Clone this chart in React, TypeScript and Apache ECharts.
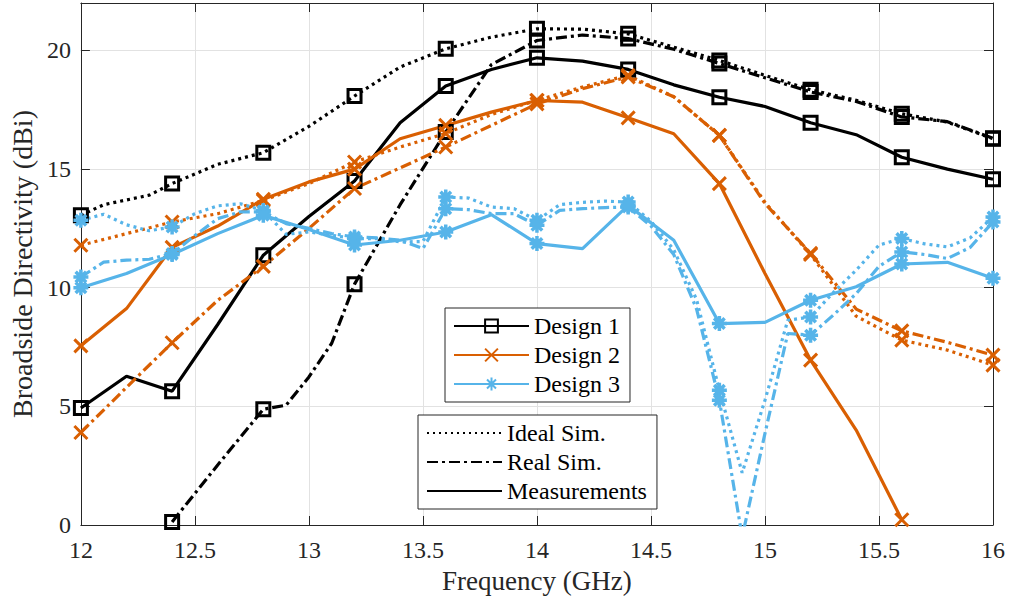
import React, { useEffect, useRef } from 'react';
import * as echarts from 'echarts';

// ---------------- data ----------------
const freqMeas = [12, 12.2, 12.4, 12.6, 12.8, 13, 13.2, 13.4, 13.6, 13.8, 14, 14.2, 14.4, 14.6, 14.8, 15, 15.2, 15.4, 15.6, 15.8, 16];
const freqFine = [12, 12.1, 12.2, 12.3, 12.4, 12.5, 12.6, 12.7, 12.8, 12.9, 13, 13.1, 13.2, 13.3, 13.4, 13.5, 13.6, 13.7, 13.8, 13.9, 14,
  14.1, 14.2, 14.3, 14.4, 14.5, 14.6, 14.7, 14.8, 14.9, 15, 15.1, 15.2, 15.3, 15.4, 15.5, 15.6, 15.7, 15.8, 15.9, 16];

// Design 1
const d1IdealFreq = [12, 12.1, 12.2, 12.3, 12.4, 12.6, 12.8, 13, 13.2, 13.4, 13.6, 13.8, 14, 14.2, 14.4, 14.6, 14.8, 15, 15.2, 15.4, 15.6, 15.8, 16];
const d1Ideal = [13.05, 13.5, 13.7, 13.9, 14.39, 15.2, 15.69, 16.8, 18.08, 19.3, 20.07, 20.56, 20.91, 20.9, 20.7, 20.14, 19.58, 18.95, 18.34, 17.9, 17.33, 16.98, 16.28];
const d1RealFreq = [12.4, 12.6, 12.8, 12.9, 13, 13.1, 13.2, 13.4, 13.6, 13.8, 14, 14.2, 14.4, 14.6, 14.8, 15, 15.2, 15.4, 15.6, 15.8, 16];
const d1Real = [0.13, 2.53, 4.88, 5.05, 6.24, 7.66, 10.15, 13.5, 16.56, 19.4, 20.42, 20.65, 20.5, 20.05, 19.45, 18.85, 18.25, 17.85, 17.2, 17.0, 16.3];
const d1Meas = [4.93, 6.27, 5.64, 8.45, 11.37, 13.0, 14.5, 16.95, 18.5, 19.2, 19.69, 19.55, 19.2, 18.55, 18.03, 17.64, 16.95, 16.45, 15.5, 15.0, 14.57];

// Design 2
const d2Ideal = [11.79, 12.28, 12.77, 13.12, 13.68, 14.39, 15.3, 15.93, 16.5, 17.3, 17.9, 18.46, 18.95, 18.05, 16.42, 13.6, 11.4, 8.8, 7.79, 7.37, 6.74];
const d2Real = [3.9, 5.8, 7.68, 9.47, 10.9, 12.5, 14.18, 15.05, 15.93, 16.84, 17.75, 18.39, 18.88, 18.05, 16.42, 13.55, 11.45, 9.1, 8.18, 7.7, 7.16];
const d2MeasFreq = [12, 12.2, 12.4, 12.6, 12.8, 13, 13.2, 13.4, 13.6, 13.8, 14, 14.2, 14.4, 14.6, 14.8, 15, 15.2, 15.4, 15.6];
const d2Meas = [7.55, 9.12, 11.7, 12.6, 13.73, 14.46, 15.0, 16.28, 16.84, 17.4, 17.89, 17.82, 17.16, 16.49, 14.39, 10.6, 6.95, 4.0, 0.22];

// Design 3
const d3Ideal = [12.84, 13.1, 12.65, 12.4, 12.56, 13.12, 13.45, 13.54, 13.25, 12.25, 12.35, 12.21, 12.07, 12.07, 11.93, 11.95, 13.82, 13.78, 13.4, 13.33, 12.84,
  13.5, 13.6, 13.65, 13.61, 12.8, 11.6, 9.5, 5.68, 2.2, 5.26, 8.63, 8.77, 9.8, 10.74, 11.8, 12.07, 11.85, 11.72, 12.1, 12.98];
const d3Real = [10.45, 11.08, 11.16, 11.2, 11.44, 12.2, 12.91, 13.2, 13.2, 12.7, 12.5, 12.28, 12.14, 12.1, 12.0, 11.65, 13.33, 13.29, 13.12, 13.12, 12.63,
  13.26, 13.33, 13.38, 13.4, 12.6, 11.4, 9.1, 5.26, -0.5, 3.86, 8.07, 8.0, 8.85, 9.75, 10.9, 11.51, 11.4, 11.23, 11.7, 12.77];
const d3Meas = [10.0, 10.6, 11.4, 12.28, 13.05, 12.45, 11.8, 12.0, 12.35, 13.08, 11.86, 11.65, 13.47, 12.0, 8.49, 8.54, 9.47, 10.04, 11.0, 11.07, 10.4];

const designNames = ['Design 1', 'Design 2', 'Design 3'];
const typeNames = ['Ideal Sim.', 'Real Sim.', 'Measurements'];
const xTitle = 'Frequency (GHz)';
const yTitle = 'Broadside Directivity (dBi)';

// ---------------- styles ----------------
const FONT = 'Liberation Serif';
const AXIS = '#262626';
const GRID = '#e2e2e2';
const C1 = '#000000';
const C2 = '#D95F02';
const C3 = '#56B4E9';
const LW = 3.2;
const DOT = [3, 4];
const DASHDOT = [11, 4, 3, 4];
const SQUARE = 'rect';
const CROSS = 'path://M0,0L10,10M0,10L10,0';
const STAR = 'path://M5,0L5,10M0,5L10,5M1.5,1.5L8.5,8.5M1.5,8.5L8.5,1.5';

const isMarker = (f: number) => {
  const k = (f - 12) / 0.4;
  return Math.abs(k - Math.round(k)) < 1e-6;
};

function lineSeries(name: string, f: number[], v: number[], color: string, dash: any, symbol: string, size: number, bw: number) {
  return {
    type: 'line',
    name,
    data: f.map((x, i) => (isMarker(x) ? { value: [x, v[i]] } : { value: [x, v[i]], symbol: 'none' })),
    symbol,
    symbolSize: size,
    showSymbol: true,
    clip: true,
    lineStyle: { color, width: LW, type: dash },
    itemStyle: { color: 'rgba(0,0,0,0)', borderColor: color, borderWidth: bw },
    emphasis: { disabled: true },
  };
}

function legendSeries(name: string, color: string, dash: any, symbol: string, bw: number) {
  return {
    type: 'line',
    name,
    data: [],
    symbol,
    symbolSize: 13,
    lineStyle: { color, width: LW, type: dash },
    itemStyle: { color: 'rgba(0,0,0,0)', borderColor: symbol === 'none' ? 'rgba(0,0,0,0)' : color, borderWidth: symbol === 'none' ? 0 : bw },
  };
}

export default function App() {
  const ref = useRef<HTMLDivElement>(null);
  useEffect(() => {
    const chart = echarts.init(ref.current!, null, { renderer: 'svg' });
    const axisCommon = {
      axisLine: { show: true, onZero: false, lineStyle: { color: AXIS, width: 1 } },
      axisTick: { show: true, inside: true, length: 9, lineStyle: { color: AXIS, width: 1 } },
    };
    const option: any = {
      animation: false,
      backgroundColor: '#fff',
      grid: { left: 80, right: 16, top: 3, bottom: 85, containLabel: false },
      xAxis: [
        {
          type: 'value', min: 12, max: 16, interval: 0.5, position: 'bottom',
          ...axisCommon,
          axisLabel: { show: true, fontFamily: FONT, fontSize: 24, color: AXIS, margin: 13, formatter: (v: number) => String(v) },
          splitLine: { show: true, lineStyle: { color: GRID, width: 1 } },
          name: xTitle, nameLocation: 'middle', nameGap: 42,
          nameTextStyle: { fontFamily: FONT, fontSize: 27, color: AXIS },
        },
        {
          type: 'value', min: 12, max: 16, interval: 0.5, position: 'top',
          ...axisCommon,
          axisLabel: { show: false },
          splitLine: { show: false },
        },
      ],
      yAxis: [
        {
          type: 'value', min: 0, max: 22, interval: 5, position: 'left',
          ...axisCommon,
          axisLabel: { show: true, fontFamily: FONT, fontSize: 24, color: AXIS, margin: 10, formatter: (v: number) => (v % 5 === 0 ? String(v) : '') },
          splitLine: { show: true, lineStyle: { color: GRID, width: 1 } },
          name: yTitle, nameLocation: 'middle', nameGap: 42, nameRotate: 90,
          nameTextStyle: { fontFamily: FONT, fontSize: 28, color: AXIS },
        },
        {
          type: 'value', min: 0, max: 22, interval: 5, position: 'right',
          ...axisCommon,
          axisLabel: { show: false },
          splitLine: { show: false },
        },
      ],
      legend: [
        {
          data: designNames, orient: 'vertical', left: 445, top: 308,
          itemWidth: 75, itemHeight: 16, itemGap: 5, padding: [6, 10, 6, 8],
          borderColor: AXIS, borderWidth: 1, backgroundColor: '#fff', selectedMode: false,
          textStyle: { fontFamily: FONT, fontSize: 24, color: '#000', lineHeight: 24 },
        },
        {
          data: typeNames, orient: 'vertical', left: 418, top: 415,
          itemWidth: 75, itemHeight: 16, itemGap: 5, padding: [6, 10, 6, 8],
          borderColor: AXIS, borderWidth: 1, backgroundColor: '#fff', selectedMode: false,
          textStyle: { fontFamily: FONT, fontSize: 24, color: '#000', lineHeight: 24 },
        },
      ],
      series: [
        lineSeries('D1 Ideal', d1IdealFreq, d1Ideal, C1, DOT, SQUARE, 13, 3),
        lineSeries('D1 Real', d1RealFreq, d1Real, C1, DASHDOT, SQUARE, 13, 3),
        lineSeries('D1 Meas', freqMeas, d1Meas, C1, 'solid', SQUARE, 13, 3),
        lineSeries('D2 Ideal', freqMeas, d2Ideal, C2, DOT, CROSS, 13, 3),
        lineSeries('D2 Real', freqMeas, d2Real, C2, DASHDOT, CROSS, 13, 3),
        lineSeries('D2 Meas', d2MeasFreq, d2Meas, C2, 'solid', CROSS, 13, 3),
        lineSeries('D3 Ideal', freqFine, d3Ideal, C3, DOT, STAR, 15, 3.5),
        lineSeries('D3 Real', freqFine, d3Real, C3, DASHDOT, STAR, 15, 3.5),
        lineSeries('D3 Meas', freqMeas, d3Meas, C3, 'solid', STAR, 15, 3.5),
        legendSeries(designNames[0], C1, 'solid', SQUARE, 3),
        legendSeries(designNames[1], C2, 'solid', CROSS, 3),
        legendSeries(designNames[2], C3, 'solid', STAR, 3.5),
        legendSeries(typeNames[0], '#000', [2, 4], 'none', 0),
        legendSeries(typeNames[1], '#000', DASHDOT, 'none', 0),
        legendSeries(typeNames[2], '#000', 'solid', 'none', 0),
      ],
    };
    chart.setOption(option);
    return () => chart.dispose();
  }, []);
  return <div ref={ref} style={{ position: 'fixed', left: 0, top: 0, width: 1009, height: 610, background: '#fff' }} />;
}
